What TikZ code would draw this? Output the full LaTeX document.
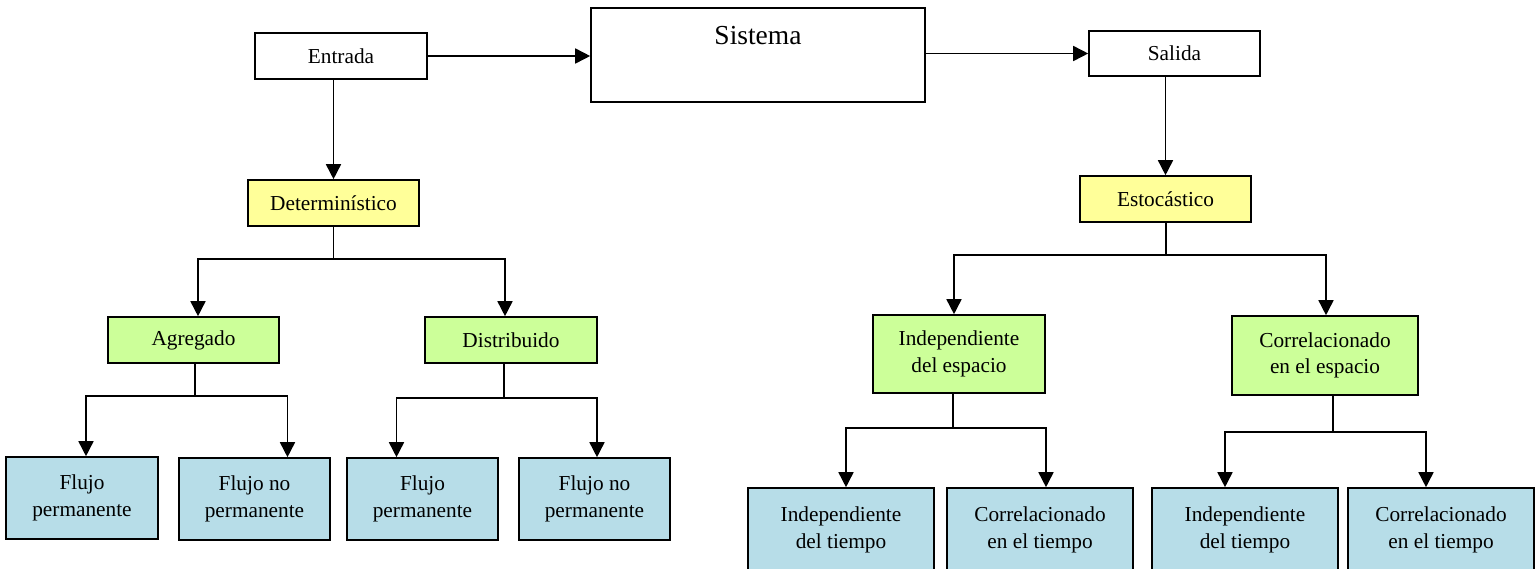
\documentclass[tikz,border=0pt]{standalone}
\usepackage{fontspec}
\setmainfont{Liberation Serif}
\usetikzlibrary{arrows.meta,calc}
\definecolor{boxyellow}{HTML}{FFFF99}
\definecolor{boxgreen}{HTML}{CCFF99}
\definecolor{boxblue}{HTML}{B7DDE8}

\begin{document}
\begin{tikzpicture}[x=1pt,y=-1pt,
  box/.style={draw=black, line width=1.6pt, inner sep=0pt, align=center,
    font=\fontsize{21.3}{26.7}\selectfont},
  plain/.style={box, fill=white},
  level1/.style={box, fill=boxyellow},
  level2/.style={box, fill=boxgreen},
  level3/.style={box, fill=boxblue},
  link/.style={draw=black, line width=1.6pt},
  arr/.style={link, -{Triangle[length=15pt,width=15pt]}}
]
\useasboundingbox (0,0) rectangle (1540,568);

% top row: input, system, output
\node[plain, minimum width=172, minimum height=46] (ent) at (341,56) {Entrada};
\node[plain, minimum width=334, minimum height=94,
  label={[anchor=north, inner sep=0pt, yshift=-19pt,
          font=\fontsize{27.5}{33}\selectfont]north:Sistema}] (sis) at (758,55) {};
\node[plain, minimum width=171, minimum height=45] (sal) at (1174.5,53.5) {Salida};

% classification of the input
\node[level1, minimum width=171, minimum height=46] (det) at (333.5,203) {Determinístico};
\node[level2, minimum width=171, minimum height=46] (agr) at (193.5,340) {Agregado};
\node[level2, minimum width=172, minimum height=46] (dis) at (511,340) {Distribuido};
\node[level3, minimum width=152, minimum height=82] (b1) at (82,498) {Flujo\\permanente};
\node[level3, minimum width=151, minimum height=82] (b2) at (254.5,499) {Flujo no\\permanente};
\node[level3, minimum width=151, minimum height=82] (b3) at (422.5,499) {Flujo\\permanente};
\node[level3, minimum width=151, minimum height=82] (b4) at (594.5,499) {Flujo no\\permanente};

% classification of the output
\node[level1, minimum width=171, minimum height=46] (est) at (1165.5,199) {Estocástico};
\node[level2, minimum width=172, minimum height=78] (ind) at (959,354) {Independiente\\del espacio};
\node[level2, minimum width=186, minimum height=79] (cor) at (1325,355.5) {Correlacionado\\en el espacio};
\node[level3, minimum width=186, minimum height=84] (b5) at (841,530) {Independiente\\del tiempo};
\node[level3, minimum width=186, minimum height=84] (b6) at (1040,530) {Correlacionado\\en el tiempo};
\node[level3, minimum width=186, minimum height=84] (b7) at (1245,530) {Independiente\\del tiempo};
\node[level3, minimum width=186, minimum height=84] (b8) at (1441,530) {Correlacionado\\en el tiempo};

% main flow
\draw[arr] (ent.east) -- (ent.east -| sis.west);
\draw[arr] (sal.west -| sis.east) -- (sal.west);
\draw[arr] (det.north |- ent.south) -- (det.north);
\draw[arr] (est.north |- sal.south) -- (est.north);

% branching junctions
\coordinate (jdet) at ($(det.south)+(0,32)$);
\coordinate (jagr) at ($(agr.south)+(1.5,32)$);
\coordinate (jdis) at ($(dis.south)+(-7,34)$);
\coordinate (jest) at ($(est.south)+(0.5,32)$);
\coordinate (jind) at ($(ind.south)+(-6,34)$);
\coordinate (jcor) at ($(cor.south)+(8,36)$);

\draw[link] (det.south) -- (jdet);
\draw[arr] (jdet) -| ($(agr.north)+(4.5,0)$);
\draw[arr] (jdet) -| ($(dis.north)+(-6,0)$);

\draw[link] (jagr |- agr.south) -- (jagr);
\draw[arr] (jagr) -| ($(b1.north)+(4,0)$);
\draw[arr] (jagr) -| ($(b2.north)+(33,0)$);

\draw[link] (jdis |- dis.south) -- (jdis);
\draw[arr] (jdis) -| ($(b3.north)+(-26,0)$);
\draw[arr] (jdis) -| ($(b4.north)+(2.5,0)$);

\draw[link] (jest |- est.south) -- (jest);
\draw[arr] (jest) -| ($(ind.north)+(-5,0)$);
\draw[arr] (jest) -| ($(cor.north)+(1,0)$);

\draw[link] (jind |- ind.south) -- (jind);
\draw[arr] (jind) -| ($(b5.north)+(5,0)$);
\draw[arr] (jind) -| ($(b6.north)+(6,0)$);

\draw[link] (jcor |- cor.south) -- (jcor);
\draw[arr] (jcor) -| ($(b7.north)+(-20,0)$);
\draw[arr] (jcor) -| ($(b8.north)+(-15,0)$);
\end{tikzpicture}
\end{document}
